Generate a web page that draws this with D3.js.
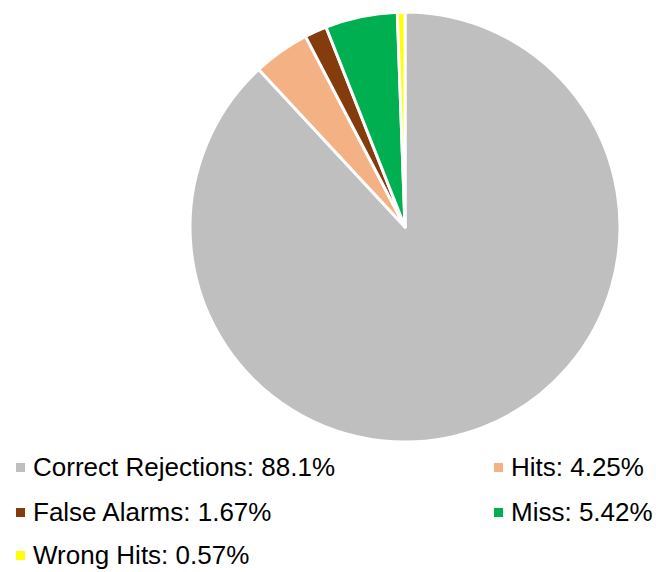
<!DOCTYPE html>
<html>
<head>
<meta charset="utf-8">
<script src="https://cdn.jsdelivr.net/npm/d3@7"></script>
<style>
  body { margin: 0; background: #fff; }
  text { font-family: "Liberation Sans", Arial, sans-serif; }
</style>
</head>
<body>
<div id="chart"></div>
<script>
var categories = ["Correct Rejections", "Hits", "False Alarms", "Miss", "Wrong Hits"];
var values = [88.1, 4.25, 1.67, 5.42, 0.57];
var labels = ["88.1%", "4.25%", "1.67%", "5.42%", "0.57%"];
var colors = ["#bfbfbf", "#f4b183", "#843c0c", "#00b050", "#ffff00"];

var width = 656, height = 572;
var cx = 405, cy = 227, radius = 215;

var data = categories.map(function(c, i) {
  return {name: c, value: values[i], label: labels[i], color: colors[i]};
});

var svg = d3.select("#chart").append("svg")
  .attr("width", width)
  .attr("height", height);

var pie = d3.pie()
  .sort(null)
  .value(function(d) { return d.value; });

var arc = d3.arc()
  .innerRadius(0)
  .outerRadius(radius);

svg.append("g")
  .attr("transform", "translate(" + cx + "," + cy + ")")
  .selectAll("path")
  .data(pie(data))
  .enter().append("path")
  .attr("d", arc)
  .style("fill", function(d) { return d.data.color; })
  .style("stroke", "#fff")
  .style("stroke-width", 3)
  .style("stroke-linejoin", "round");

// legend: two columns, filled row by row
var colX = [16, 494];
var rowY = [467, 512, 555];

var item = svg.selectAll(".legend")
  .data(data)
  .enter().append("g")
  .attr("class", "legend")
  .attr("transform", function(d, i) {
    return "translate(" + colX[i % 2] + "," + rowY[Math.floor(i / 2)] + ")";
  });

item.append("rect")
  .attr("x", 0)
  .attr("y", -4)
  .attr("width", 9)
  .attr("height", 9)
  .style("fill", function(d) { return d.color; });

item.append("text")
  .attr("x", 17)
  .attr("y", 0)
  .attr("dy", "0.35em")
  .style("font-size", "26px")
  .style("fill", "#000")
  .text(function(d) { return d.name + ": " + d.label; });
</script>
</body>
</html>
